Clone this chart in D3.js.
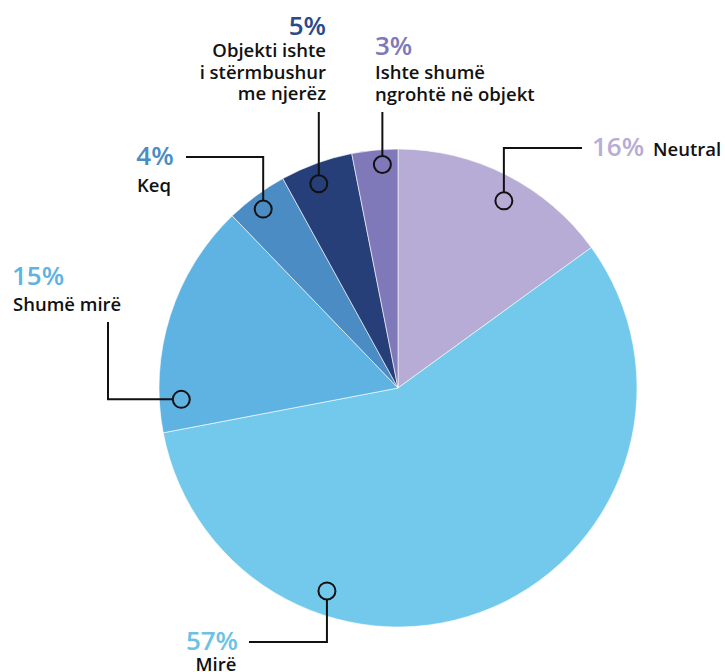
<!doctype html>
<html>
  <head>
    <meta charset="utf-8">
    <script src="https://cdn.jsdelivr.net/npm/d3@7/dist/d3.min.js"></script>
    <style>
      body { margin: 0; background: #fff; }
      text { font-family: "Open Sans", "Noto Sans", sans-serif; }
      .name { font-size: 18.5px; font-weight: 600; fill: #111; }
      .pct { font-size: 26px; font-weight: 600; }
    </style>
  </head>
  <body>
    <div id="chart"></div>
    <script>
      // answers, clockwise from 12 o'clock
      var categories = ["Neutral", "Mirë", "Shumë mirë", "Keq",
        "Objekti ishte i stërmbushur me njerëz", "Ishte shumë ngrohtë në objekt"];
      // slice sizes as drawn in the source
      var shares = [15.0, 57.0, 15.8, 4.2, 4.9, 3.1];
      // percentages as printed in the source
      var pctLabels = ["16%", "57%", "15%", "4%", "5%", "3%"];
      var nameLines = [["Neutral"], ["Mirë"], ["Shumë mirë"], ["Keq"],
        ["Objekti ishte", "i stërmbushur", "me njerëz"], ["Ishte shumë", "ngrohtë në objekt"]];
      var colors = ["#b7acd5", "#72c9eb", "#5fb3e2", "#4a8cc3", "#263f79", "#8079b9"];
      var pctColors = ["#b7acd5", "#6cc2e3", "#5fb3e2", "#4a8cc3", "#2b4a8c", "#8079b9"];

      var width = 725, height = 672;
      var cx = 398, cy = 388, radius = 239;

      // leader layout: marker angle/radius, then route to the label
      var leaders = [
        {angle: 29.5, r: 215, route: [["v", 148], ["h", 582]]},
        {angle: 199.3, r: 215, route: [["v", 642], ["h", 249]]},
        {angle: 267, r: 217, route: [["h", 108], ["v", 322]]},
        {angle: 323, r: 224, route: [["v", 157], ["h", 186]]},
        {angle: 338.8, r: 219, route: [["v", 112]]},
        {angle: 356, r: 224, route: [["v", 112]]}
      ];
      // label text placement
      var labelPos = [
        {pct: [592, 156, "start"], name: [653, 156, "start"], dy: 0},
        {pct: [212, 650, "middle"], name: [216, 671, "middle"], dy: 23},
        {pct: [12, 285, "start"], name: [13, 311, "start"], dy: 26},
        {pct: [155, 165, "middle"], name: [154, 192, "middle"], dy: 27},
        {pct: [326, 35, "end"], name: [326, 57, "end"], dy: 21.5},
        {pct: [375, 55, "start"], name: [375, 79, "start"], dy: 21.5}
      ];

      var svg = d3.select("#chart").append("svg")
        .attr("width", width)
        .attr("height", height);

      var g = svg.append("g")
        .attr("transform", "translate(" + cx + "," + cy + ")");

      var pie = d3.pie().sort(null).value(function(d) { return d; });
      var arc = d3.arc().innerRadius(0).outerRadius(radius);

      g.selectAll("path.slice")
        .data(pie(shares))
        .enter().append("path")
        .attr("class", "slice")
        .attr("d", arc)
        .attr("fill", function(d, i) { return colors[i]; })
        .attr("stroke", "#fff")
        .attr("stroke-width", 0.6);

      // leaders + markers
      leaders.forEach(function(l, i) {
        var p = d3.pointRadial(l.angle * Math.PI / 180, l.r);
        var x = cx + p[0], y = cy + p[1];
        var mr = 8.5;
        var first = l.route[0];
        var pts = [];
        if (first[0] == "v") pts.push([x, y + (first[1] < y ? -mr : mr)]);
        else pts.push([x + (first[1] < x ? -mr : mr), y]);
        var px = x, py = y;
        l.route.forEach(function(s) {
          if (s[0] == "v") py = s[1]; else px = s[1];
          pts.push([px, py]);
        });
        svg.append("path")
          .attr("d", d3.line()(pts))
          .attr("fill", "none")
          .attr("stroke", "#111")
          .attr("stroke-width", 2);
        svg.append("circle")
          .attr("cx", x).attr("cy", y).attr("r", mr)
          .attr("fill", "none")
          .attr("stroke", "#111")
          .attr("stroke-width", 2);
      });

      // labels
      labelPos.forEach(function(lp, i) {
        svg.append("text")
          .attr("class", "pct")
          .attr("x", lp.pct[0]).attr("y", lp.pct[1])
          .attr("text-anchor", lp.pct[2])
          .attr("fill", pctColors[i])
          .text(pctLabels[i]);
        nameLines[i].forEach(function(line, j) {
          svg.append("text")
            .attr("class", "name")
            .attr("x", lp.name[0]).attr("y", lp.name[1] + j * lp.dy)
            .attr("text-anchor", lp.name[2])
            .text(line);
        });
      });
    </script>
  </body>
</html>
